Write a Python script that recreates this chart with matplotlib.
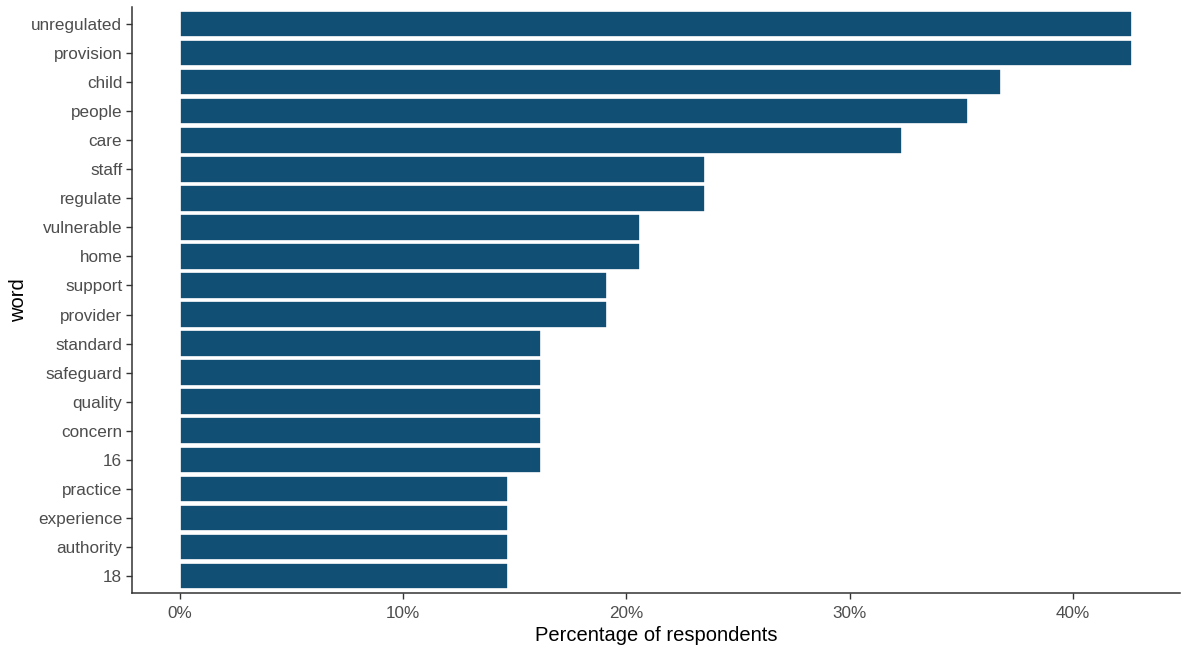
import numpy as np
import matplotlib.pyplot as plt
from matplotlib.ticker import FuncFormatter

# Данные (сверху вниз)
words = ['unregulated', 'provision', 'child', 'people', 'care', 'staff',
         'regulate', 'vulnerable', 'home', 'support', 'provider', 'standard',
         'safeguard', 'quality', 'concern', '16', 'practice', 'experience',
         'authority', '18']
pct = [42.65, 42.65, 36.76, 35.29, 32.35, 23.53, 23.53, 20.59, 20.59, 19.12,
       19.12, 16.18, 16.18, 16.18, 16.18, 16.18, 14.71, 14.71, 14.71, 14.71]

plt.rcParams['font.family'] = ['Liberation Sans', 'DejaVu Sans']

fig = plt.figure(figsize=(11.86, 6.49), dpi=100)
ax = fig.add_axes([132/1186, 56/649, (1180 - 132)/1186, (593 - 7)/649])

y = np.arange(len(words))[::-1]
ax.barh(y, pct, height=0.9, color='#124f74', edgecolor='white', linewidth=1.2)

xmax = max(pct)
ax.set_xlim(-0.05*xmax, xmax*1.05)
ax.set_ylim(-0.6, len(words) - 0.4)
ax.set_yticks(y)
ax.set_yticklabels(words)
ax.set_xticks([0, 10, 20, 30, 40])
ax.xaxis.set_major_formatter(FuncFormatter(lambda v, p: f'{v:.0f}%'))

for s in ['top', 'right']:
    ax.spines[s].set_visible(False)
for s in ['left', 'bottom']:
    ax.spines[s].set_color('#333333')
    ax.spines[s].set_linewidth(1.1)

ax.tick_params(axis='both', colors='#333333', length=4, width=1,
               labelsize=12.3, labelcolor='#4d4d4d')
ax.tick_params(axis='x', pad=5)
ax.tick_params(axis='y', pad=3)

ax.set_xlabel('Percentage of respondents', fontsize=14.5, color='black', labelpad=4)
ax.set_ylabel('word', fontsize=14.5, color='black', labelpad=2)

fig.savefig('out.png', dpi=100)
